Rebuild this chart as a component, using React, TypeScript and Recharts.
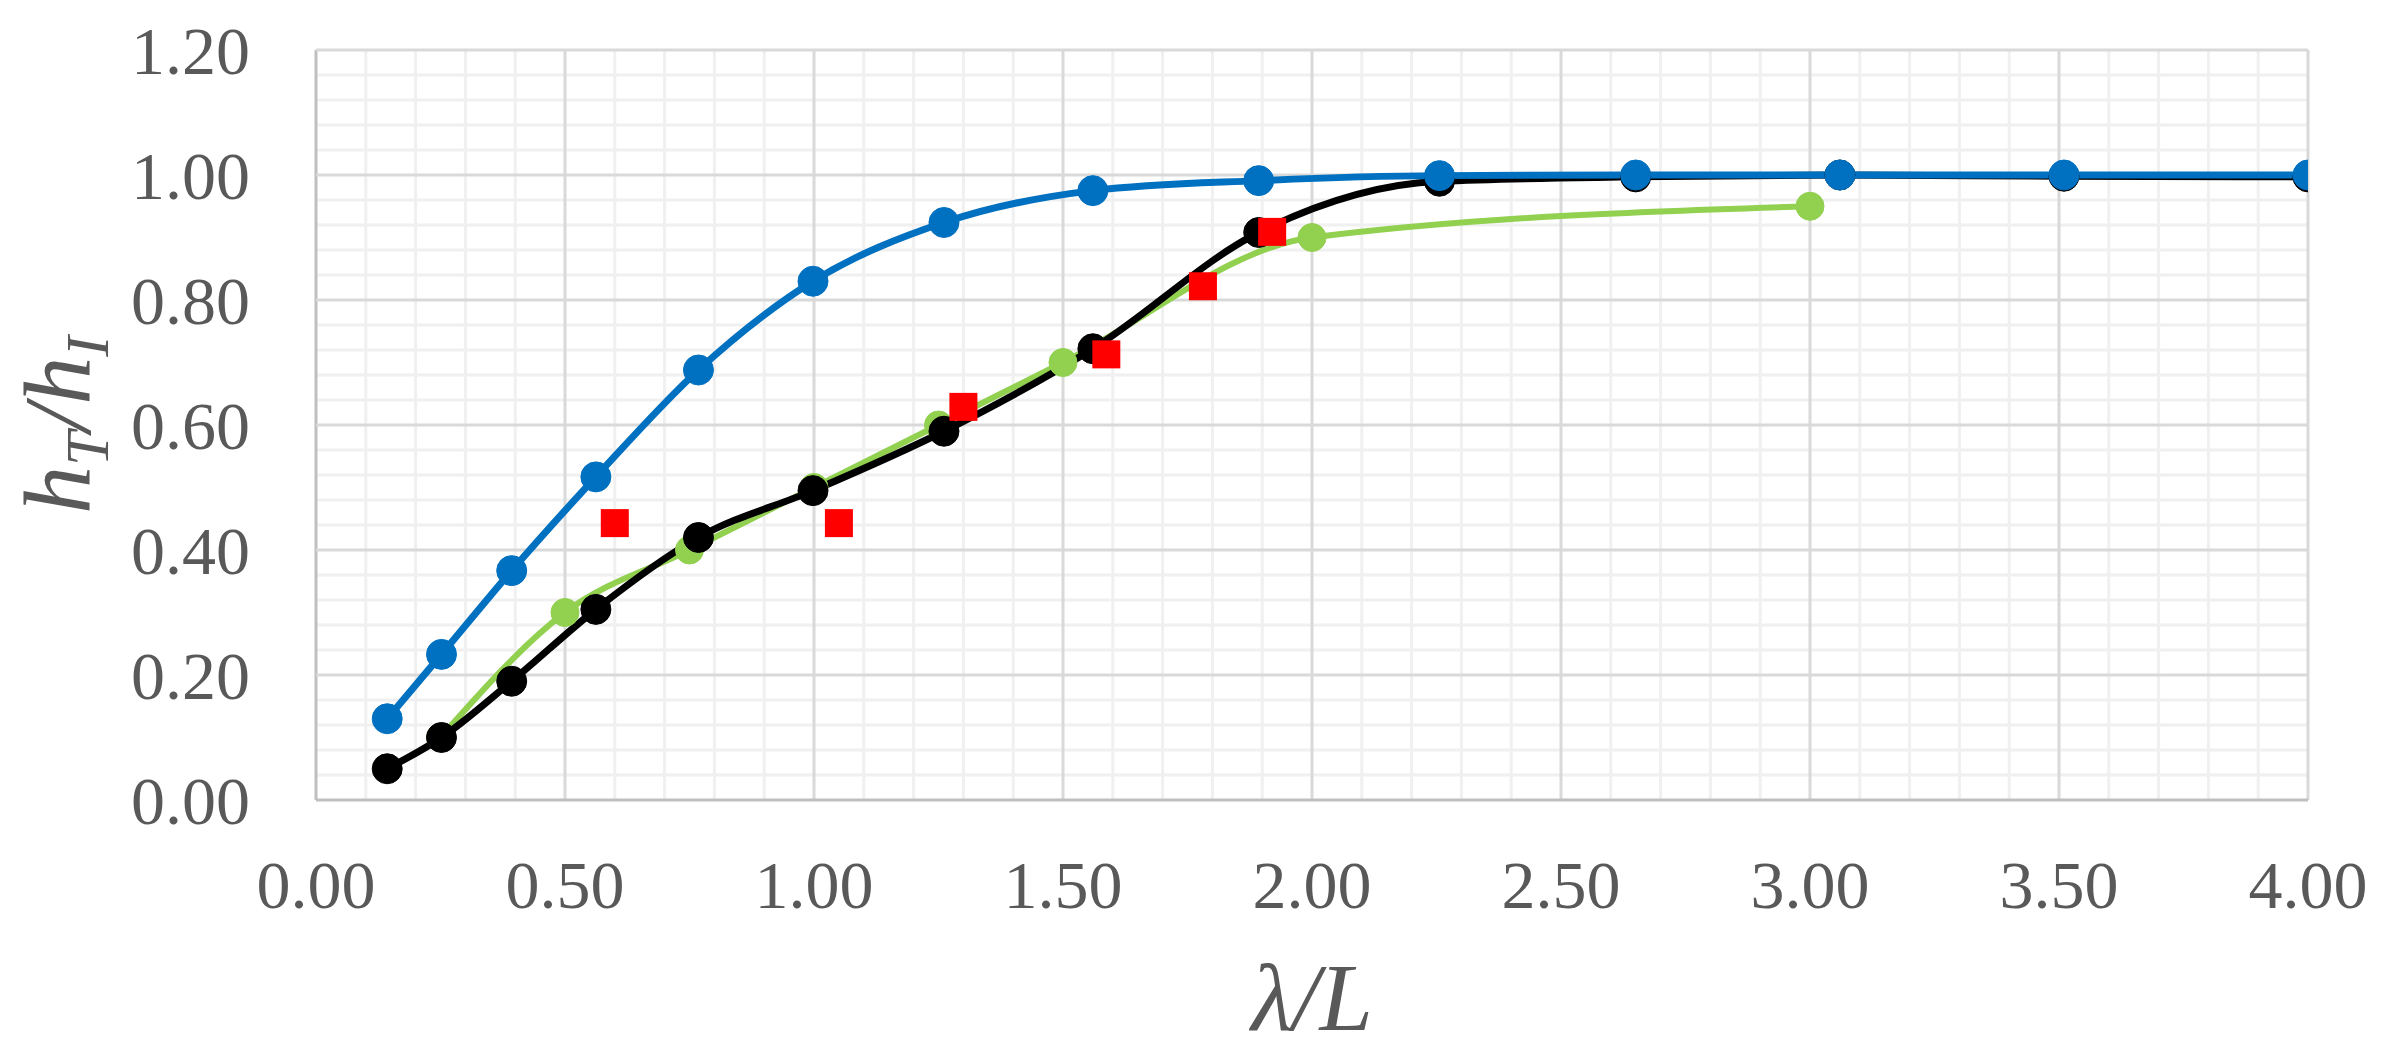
import {
  ComposedChart,
  Line,
  Scatter,
  XAxis,
  YAxis,
  ReferenceLine,
  Label,
} from "recharts";

// x values (λ/L) shared by the two numerical series
const lambdaX = [0.143, 0.252, 0.393, 0.562, 0.768, 0.998, 1.261, 1.56, 1.893, 2.256, 2.65, 3.06, 3.51, 4.0];
const blueY = [0.13, 0.233, 0.367, 0.517, 0.688, 0.83, 0.924, 0.975, 0.991, 0.999, 1.0, 1.0, 1.0, 1.0];
const blackY = [0.05, 0.1, 0.19, 0.305, 0.42, 0.495, 0.59, 0.722, 0.908, 0.99, 0.997, 1.0, 0.998, 0.997];

const greenX = [0.25, 0.5, 0.75, 1.0, 1.25, 1.5, 2.0, 3.0];
const greenY = [0.1, 0.3, 0.4, 0.5, 0.6, 0.7, 0.9, 0.95];

const redX = [0.6, 1.05, 1.3, 1.587, 1.781, 1.92];
const redY = [0.443, 0.443, 0.629, 0.713, 0.822, 0.909];

const xTicks = [0, 0.5, 1, 1.5, 2, 2.5, 3, 3.5, 4];
const yTicks = [0, 0.2, 0.4, 0.6, 0.8, 1.0, 1.2];
const xMinor = [0.1, 0.2, 0.3, 0.4, 0.6, 0.7, 0.8, 0.9, 1.1, 1.2, 1.3, 1.4, 1.6, 1.7, 1.8, 1.9, 2.1, 2.2, 2.3, 2.4, 2.6, 2.7, 2.8, 2.9, 3.1, 3.2, 3.3, 3.4, 3.6, 3.7, 3.8, 3.9];
const yMinor = [0.04, 0.08, 0.12, 0.16, 0.24, 0.28, 0.32, 0.36, 0.44, 0.48, 0.52, 0.56, 0.64, 0.68, 0.72, 0.76, 0.84, 0.88, 0.92, 0.96, 1.04, 1.08, 1.12, 1.16];

const zip = (xs: number[], ys: number[]) => xs.map((x, i) => ({ x, y: ys[i] }));

const blueData = zip(lambdaX, blueY);
const blackData = zip(lambdaX, blackY);
const greenData = zip(greenX, greenY);
const redData = zip(redX, redY);

const FONT = "'Liberation Serif', 'Times New Roman', serif";
const TICK = { fill: "#595959", fontSize: 68, fontFamily: FONT };

const RedSquare = (props: any) => {
  const { cx, cy } = props;
  if (cx == null || cy == null) return null;
  return <rect x={cx - 14} y={cy - 14} width={28} height={28} fill="#ff0000" />;
};

const XTitle = (props: any) => {
  const { x, y, width } = props.viewBox;
  return (
    <text
      x={x + width / 2}
      y={y + 230}
      textAnchor="middle"
      fill="#595959"
      fontFamily={FONT}
      fontStyle="italic"
      fontSize={96}
    >
      λ/L
    </text>
  );
};

const YTitle = (props: any) => {
  const { y, height } = props.viewBox;
  const cx = 90;
  const cy = y + height / 2;
  return (
    <text
      transform={`translate(${cx},${cy}) rotate(-90)`}
      textAnchor="middle"
      fill="#595959"
      fontFamily={FONT}
      fontStyle="italic"
      fontSize={96}
    >
      h
      <tspan fontSize={62} dy={18}>T</tspan>
      <tspan dy={-18}>/h</tspan>
      <tspan fontSize={62} dy={18}>I</tspan>
    </text>
  );
};

export default function App() {
  return (
    <div style={{ position: "absolute", left: 0, top: 0, background: "#fff" }}>
      <ComposedChart
        width={2384}
        height={1050}
        margin={{ top: 50, right: 76, left: 0, bottom: 0 }}
      >
        <XAxis
          type="number"
          dataKey="x"
          domain={[0, 4]}
          ticks={xTicks}
          allowDataOverflow
          tickFormatter={(v: number) => v.toFixed(2)}
          tick={TICK}
          tickLine={false}
          tickSize={0}
          tickMargin={60}
          axisLine={false}
          height={250}
        >
          <Label content={<XTitle />} />
        </XAxis>
        <YAxis
          type="number"
          dataKey="y"
          domain={[0, 1.2]}
          ticks={yTicks}
          allowDataOverflow
          tickFormatter={(v: number) => v.toFixed(2)}
          tick={TICK}
          tickLine={false}
          tickSize={0}
          tickMargin={66}
          axisLine={false}
          width={316}
        >
          <Label content={<YTitle />} />
        </YAxis>

        {xMinor.map((v) => (
          <ReferenceLine key={"xm" + v} x={v} stroke="#f0f0f0" strokeWidth={3} />
        ))}
        {yMinor.map((v) => (
          <ReferenceLine key={"ym" + v} y={v} stroke="#f0f0f0" strokeWidth={3} />
        ))}
        {xTicks.map((v) => (
          <ReferenceLine key={"xM" + v} x={v} stroke={v === 0 ? "#bfbfbf" : "#d9d9d9"} strokeWidth={3} />
        ))}
        {yTicks.map((v) => (
          <ReferenceLine key={"yM" + v} y={v} stroke={v === 0 ? "#bfbfbf" : "#d9d9d9"} strokeWidth={3} />
        ))}

        <Line
          data={greenData}
          dataKey="y"
          type="monotone"
          stroke="#92d050"
          strokeWidth={6}
          dot={{ r: 14, fill: "#92d050", stroke: "#92d050", strokeWidth: 1 }}
          activeDot={false}
          isAnimationActive={false}
        />
        <Line
          data={blackData}
          dataKey="y"
          type="monotone"
          stroke="#000000"
          strokeWidth={7}
          dot={{ r: 15, fill: "#000000", stroke: "#000000", strokeWidth: 1 }}
          activeDot={false}
          isAnimationActive={false}
        />
        <Line
          data={blueData}
          dataKey="y"
          type="monotone"
          stroke="#0070c0"
          strokeWidth={7}
          dot={{ r: 15, fill: "#0070c0", stroke: "#0070c0", strokeWidth: 1 }}
          activeDot={false}
          isAnimationActive={false}
        />
        <Scatter
          data={redData}
          dataKey="y"
          shape={<RedSquare />}
          isAnimationActive={false}
        />
      </ComposedChart>
    </div>
  );
}
